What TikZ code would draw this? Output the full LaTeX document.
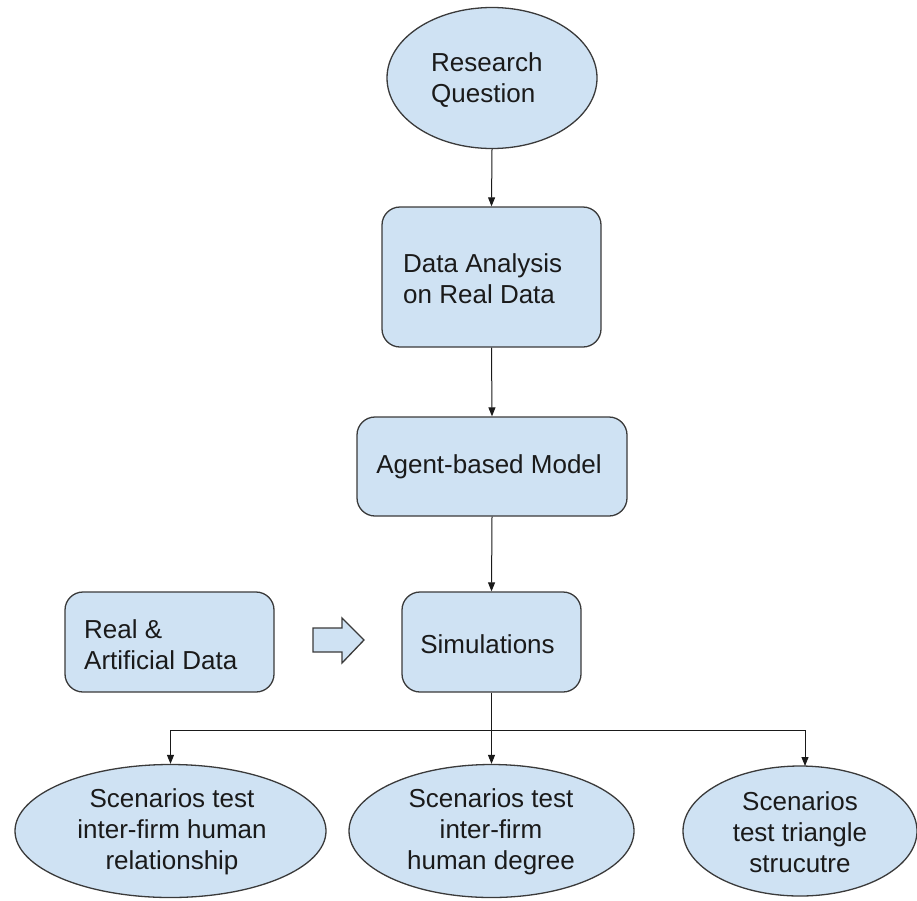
\documentclass[tikz,border=0pt]{standalone}
\usepackage{fontspec}
\setmainfont{Liberation Sans}
\usetikzlibrary{shapes.geometric,arrows.meta}
\definecolor{boxfill}{HTML}{CFE2F3}
\definecolor{edge}{HTML}{3A3A3A}
\definecolor{ink}{HTML}{1A1A1A}
\begin{document}
\begin{tikzpicture}[x=1pt,y=-1pt,
  every node/.style={font=\fontsize{26}{31}\selectfont, text=ink},
  oval/.style={ellipse, draw=edge, fill=boxfill, line width=1.3pt, inner sep=0pt},
  card/.style={rectangle, rounded corners=18pt, draw=edge, fill=boxfill, line width=1.3pt, inner sep=0pt},
  link/.style={draw=ink, line width=1pt, -{Triangle[length=9pt,width=7pt]}},
  label/.style={fill=none, draw=none, inner sep=0pt}]
\useasboundingbox (0,0) rectangle (917,900);

% main chain
\node[oval, minimum width=210pt, minimum height=141pt] (rq) at (492,78) {};
\node[label, align=left, anchor=west] at (431,80) {Research\\Question};

\node[card, minimum width=219pt, minimum height=140pt] (da) at (491.5,277) {};
\node[label, align=left, anchor=west] at (403,279) {Data Analysis\\on Real Data};

\node[card, minimum width=270pt, minimum height=99pt] (abm) at (492,466.5) {};
\node[label] at (489,467) {Agent-based Model};

\node[card, minimum width=179pt, minimum height=100pt] (sim) at (491.5,642) {};
\node[label] at (487.5,644) {Simulations};

% data input and block arrow
\node[card, minimum width=209pt, minimum height=100pt] (data) at (169.5,642) {};
\node[label, align=left, anchor=west] at (84,645) {Real \&\\Artificial Data};

\draw[edge, fill=boxfill, line width=1.3pt, line join=miter]
  (313,628) -- (342,628) -- (342,618) -- (364,640) -- (342,663) -- (342,652) -- (313,652) -- cycle;

% scenario ovals
\node[oval, minimum width=311pt, minimum height=133pt] (s1) at (170.5,831) {};
\node[label, align=center] at (172,832) {Scenarios test\\inter-firm human\\relationship};

\node[oval, minimum width=285pt, minimum height=133pt] (s2) at (491.5,831) {};
\node[label, align=center] at (491,832) {Scenarios test\\inter-firm\\human degree};

\node[oval, minimum width=234pt, minimum height=130pt] (s3) at (800,831) {};
\node[label, align=center] at (800,832) {Scenarios\\test triangle\\strucutre};

% connectors
\draw[link] (rq.south) -- (da.north);
\draw[link] (da.south) -- (abm.north);
\draw[link] (abm.south) -- (sim.north);
\coordinate (fork) at (491.5,730);
\coordinate (s3in) at (805,766);
\draw[link] (sim.south) -- (s2.north);
\draw[link] (sim.south) -- (fork) -| (s1.north);
\draw[link] (fork) -| (s3in);
\end{tikzpicture}
\end{document}
